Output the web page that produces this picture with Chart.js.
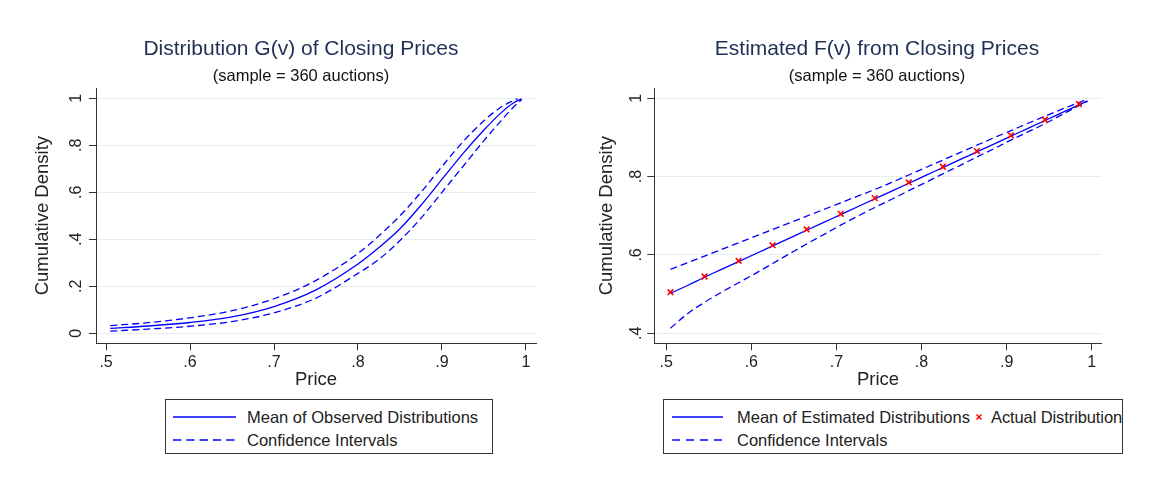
<!DOCTYPE html>
<html>
<head>
<meta charset="utf-8">
<script src="https://cdn.jsdelivr.net/npm/chart.js@4/dist/chart.umd.min.js"></script>
<style>
  html, body { margin: 0; padding: 0; background: #fff; }
  body { width: 1151px; height: 484px; position: relative; overflow: hidden;
         font-family: "Liberation Sans", Arial, Helvetica, sans-serif; }
  canvas.pane { position: absolute; top: 0; }
  .title { position: absolute; transform: translateX(-50%); white-space: nowrap;
           color: #1f2f55; font-size: 21px; line-height: 1; }
  .sub { position: absolute; transform: translateX(-50%); white-space: nowrap;
         color: #111; font-size: 16.5px; line-height: 1; }
  .legend { position: absolute; border: 1px solid #333; box-sizing: border-box;
            font-size: 16.5px; color: #222; background: #fff; }
  .legend .item { position: absolute; white-space: nowrap; line-height: 1;
                  transform: translateY(-50%); }
  .legend svg { position: absolute; overflow: visible; }
</style>
</head>
<body>
<canvas id="gChart" class="pane" width="575" height="484" style="left:0;width:575px;height:484px"></canvas>
<canvas id="fChart" class="pane" width="576" height="484" style="left:575px;width:576px;height:484px"></canvas>

<div class="title" style="left:301px;top:37px">Distribution G(v) of Closing Prices</div>
<div class="sub" style="left:301px;top:67px">(sample = 360 auctions)</div>
<div class="title" style="left:877px;top:37px">Estimated F(v) from Closing Prices</div>
<div class="sub" style="left:877px;top:67px">(sample = 360 auctions)</div>

<div class="legend" style="left:165px;top:399px;width:328px;height:55px">
  <svg style="left:0;top:0" width="328" height="55">
    <line x1="7" y1="17" x2="70" y2="17" stroke="#0000ff" stroke-width="1.4"/>
    <line x1="7" y1="40" x2="70" y2="40" stroke="#0000ff" stroke-width="1.4" stroke-dasharray="8.3 5"/>
  </svg>
  <div class="item" style="left:81px;top:17px">Mean of Observed Distributions</div>
  <div class="item" style="left:81px;top:40px">Confidence Intervals</div>
</div>

<div class="legend" style="left:663px;top:399px;width:460px;height:55px">
  <svg style="left:0;top:0" width="460" height="55">
    <line x1="8" y1="17" x2="59" y2="17" stroke="#0000ff" stroke-width="1.4"/>
    <line x1="8" y1="40" x2="59" y2="40" stroke="#0000ff" stroke-width="1.4" stroke-dasharray="8 6"/>
    <line x1="312.5" y1="14.5" x2="317.5" y2="19.5" stroke="#ff0000" stroke-width="1.5"/>
    <line x1="312.5" y1="19.5" x2="317.5" y2="14.5" stroke="#ff0000" stroke-width="1.5"/>
  </svg>
  <div class="item" style="left:73px;top:17px">Mean of Estimated Distributions</div>
  <div class="item" style="left:327px;top:17px;letter-spacing:-0.1px">Actual Distribution</div>
  <div class="item" style="left:73px;top:40px">Confidence Intervals</div>
</div>

<script>
// ---- Distribution G(v) of closing prices ----
const gMeanPrice  = [0.505, 0.55, 0.6, 0.65, 0.7, 0.75, 0.8, 0.825, 0.85, 0.875, 0.9, 0.925, 0.95, 0.97, 0.985, 0.995];
const gMean       = [0.021, 0.031, 0.046, 0.070, 0.114, 0.185, 0.295, 0.365, 0.445, 0.545, 0.655, 0.765, 0.865, 0.937, 0.980, 0.998];
const gUpperPrice = [0.505, 0.55, 0.6, 0.65, 0.7, 0.75, 0.8, 0.825, 0.85, 0.875, 0.9, 0.925, 0.95, 0.97, 0.985, 0.99];
const gUpper      = [0.033, 0.045, 0.066, 0.096, 0.147, 0.225, 0.340, 0.415, 0.500, 0.600, 0.710, 0.815, 0.905, 0.962, 0.990, 0.998];
const gLowerPrice = [0.505, 0.55, 0.6, 0.65, 0.7, 0.75, 0.8, 0.825, 0.85, 0.875, 0.9, 0.925, 0.95, 0.97, 0.985, 0.995];
const gLower      = [0.009, 0.018, 0.030, 0.050, 0.087, 0.150, 0.255, 0.315, 0.395, 0.490, 0.600, 0.710, 0.820, 0.903, 0.962, 0.995];

// ---- Estimated F(v) from closing prices ----
const fPrice = [0.505, 0.525, 0.545, 0.565, 0.585, 0.605, 0.625, 0.645, 0.665, 0.685, 0.705, 0.725, 0.745,
                0.765, 0.785, 0.805, 0.825, 0.845, 0.865, 0.885, 0.905, 0.925, 0.945, 0.965, 0.985, 0.995];
const fMean  = [0.502, 0.522, 0.543, 0.563, 0.583, 0.603, 0.623, 0.643, 0.663, 0.683, 0.703, 0.723, 0.743,
                0.763, 0.783, 0.803, 0.823, 0.843, 0.863, 0.883, 0.903, 0.923, 0.943, 0.963, 0.983, 0.993];
const fUpper = [0.563, 0.580, 0.597, 0.614, 0.631, 0.648, 0.665, 0.682, 0.699, 0.716, 0.733, 0.750, 0.767,
                0.785, 0.804, 0.823, 0.842, 0.861, 0.880, 0.899, 0.917, 0.936, 0.954, 0.972, 0.989, 0.998];
const fLower = [0.413, 0.450, 0.479, 0.505, 0.529, 0.553, 0.578, 0.603, 0.628, 0.652, 0.676, 0.699, 0.721,
                0.742, 0.764, 0.785, 0.807, 0.828, 0.850, 0.871, 0.893, 0.914, 0.935, 0.958, 0.981, 0.992];
const actualPrice = [0.505, 0.545, 0.585, 0.625, 0.665, 0.705, 0.745, 0.785, 0.825, 0.865, 0.905, 0.945, 0.985];
const actualValue = [0.505, 0.545, 0.585, 0.625, 0.665, 0.705, 0.745, 0.785, 0.825, 0.865, 0.905, 0.945, 0.985];

// ---- tick labels ----
const priceTicks = [0.5, 0.6, 0.7, 0.8, 0.9, 1.0];
const gDensityTicks = [0, 0.2, 0.4, 0.6, 0.8, 1.0];
const fDensityTicks = [0.4, 0.6, 0.8, 1.0];

const FONT = '"Liberation Sans", Arial, Helvetica, sans-serif';
const BLUE = '#0000ff';
const RED = '#ff0000';
const AXIS = '#333333';
const GRID = '#e5edf0';

function tickText(v) {
  const r = Math.round(v * 10) / 10;
  if (r === 0) return '0';
  if (r === 1) return '1';
  return r.toFixed(1).replace(/^0/, '');
}

function pts(xs, ys) { return xs.map((x, i) => ({ x: x, y: ys[i] })); }

// Vertical (rotated) labels for the y axis, placed with the scale's own pixel mapping
const rotatedYTicks = {
  id: 'rotatedYTicks',
  afterDraw(chart, args, opts) {
    const s = chart.scales.y, ctx = chart.ctx;
    ctx.save();
    ctx.font = '16px ' + FONT;
    ctx.fillStyle = '#222';
    ctx.textAlign = 'center';
    ctx.textBaseline = 'middle';
    s.ticks.forEach(t => {
      ctx.save();
      ctx.translate(s.right - opts.offset, s.getPixelForValue(t.value));
      ctx.rotate(-Math.PI / 2);
      ctx.fillText(tickText(t.value), 0, 0);
      ctx.restore();
    });
    ctx.restore();
  }
};

function makeOptions(cfg) {
  return {
    responsive: false,
    animation: false,
    events: [],
    layout: { padding: cfg.padding },
    plugins: {
      legend: { display: false },
      title: { display: false },
      tooltip: { enabled: false },
      rotatedYTicks: { offset: cfg.labelOffset }
    },
    elements: { point: { radius: 0 } },
    scales: {
      x: {
        type: 'linear',
        min: cfg.xMin, max: cfg.xMax,
        afterBuildTicks: s => { s.ticks = priceTicks.map(v => ({ value: v })); },
        afterFit: s => { s.height = cfg.xHeight; },
        border: { display: true, color: AXIS, width: 1 },
        grid: { drawOnChartArea: false, drawTicks: true, tickLength: 7, tickColor: AXIS, tickWidth: 1 },
        ticks: { color: '#222', font: { family: FONT, size: 16 }, padding: 3,
                 maxRotation: 0, callback: v => tickText(v) },
        title: { display: true, text: 'Price', color: '#222',
                 font: { family: FONT, size: 18.5 }, padding: { top: 0, bottom: 0 } }
      },
      y: {
        type: 'linear',
        min: cfg.yMin, max: cfg.yMax,
        afterBuildTicks: s => { s.ticks = cfg.yTicks.map(v => ({ value: v })); },
        afterFit: s => { s.width = cfg.yWidth; },
        border: { display: true, color: AXIS, width: 1 },
        grid: { color: GRID, lineWidth: 1, drawTicks: true, tickLength: 7, tickColor: AXIS, tickWidth: 1 },
        ticks: { display: false },
        title: { display: true, text: 'Cumulative Density', color: '#222',
                 font: { family: FONT, size: 18.5 }, padding: { top: 0, bottom: 0 } }
      }
    }
  };
}

new Chart(document.getElementById('gChart'), {
  type: 'line',
  data: {
    datasets: [
      { label: 'Mean of Observed Distributions', data: pts(gMeanPrice, gMean),
        borderColor: BLUE, borderWidth: 1.3, fill: false, cubicInterpolationMode: 'monotone' },
      { label: 'Confidence Intervals', data: pts(gUpperPrice, gUpper),
        borderColor: BLUE, borderWidth: 1.3, borderDash: [7, 4], fill: false, cubicInterpolationMode: 'monotone' },
      { label: 'Confidence Intervals (lower)', data: pts(gLowerPrice, gLower),
        borderColor: BLUE, borderWidth: 1.3, borderDash: [7, 4], fill: false, cubicInterpolationMode: 'monotone' }
    ]
  },
  options: makeOptions({
    padding: { left: 32, right: 39, top: 88, bottom: 93 },
    xMin: 0.488, xMax: 1.012, yMin: -0.0426, yMax: 1.044,
    yTicks: gDensityTicks, yWidth: 64, xHeight: 47.7, labelOffset: 19
  }),
  plugins: [rotatedYTicks]
});

new Chart(document.getElementById('fChart'), {
  type: 'line',
  data: {
    datasets: [
      { label: 'Actual Distribution', data: pts(actualPrice, actualValue),
        showLine: false, pointStyle: 'crossRot', pointRadius: 4, pointBorderColor: RED,
        pointBorderWidth: 1.6, pointBackgroundColor: RED, borderColor: RED },
      { label: 'Mean of Estimated Distributions', data: pts(fPrice, fMean),
        borderColor: BLUE, borderWidth: 1.3, fill: false, cubicInterpolationMode: 'monotone' },
      { label: 'Confidence Intervals', data: pts(fPrice, fUpper),
        borderColor: BLUE, borderWidth: 1.3, borderDash: [7, 4], fill: false, cubicInterpolationMode: 'monotone' },
      { label: 'Confidence Intervals (lower)', data: pts(fPrice, fLower),
        borderColor: BLUE, borderWidth: 1.3, borderDash: [7, 4], fill: false, cubicInterpolationMode: 'monotone' }
    ]
  },
  options: makeOptions({
    padding: { left: 21, right: 49.3, top: 88, bottom: 93 },
    xMin: 0.486, xMax: 1.0117, yMin: 0.3745, yMax: 1.026,
    yTicks: fDensityTicks, yWidth: 58.3, xHeight: 47.7, labelOffset: 18
  }),
  plugins: [rotatedYTicks]
});
</script>
</body>
</html>
